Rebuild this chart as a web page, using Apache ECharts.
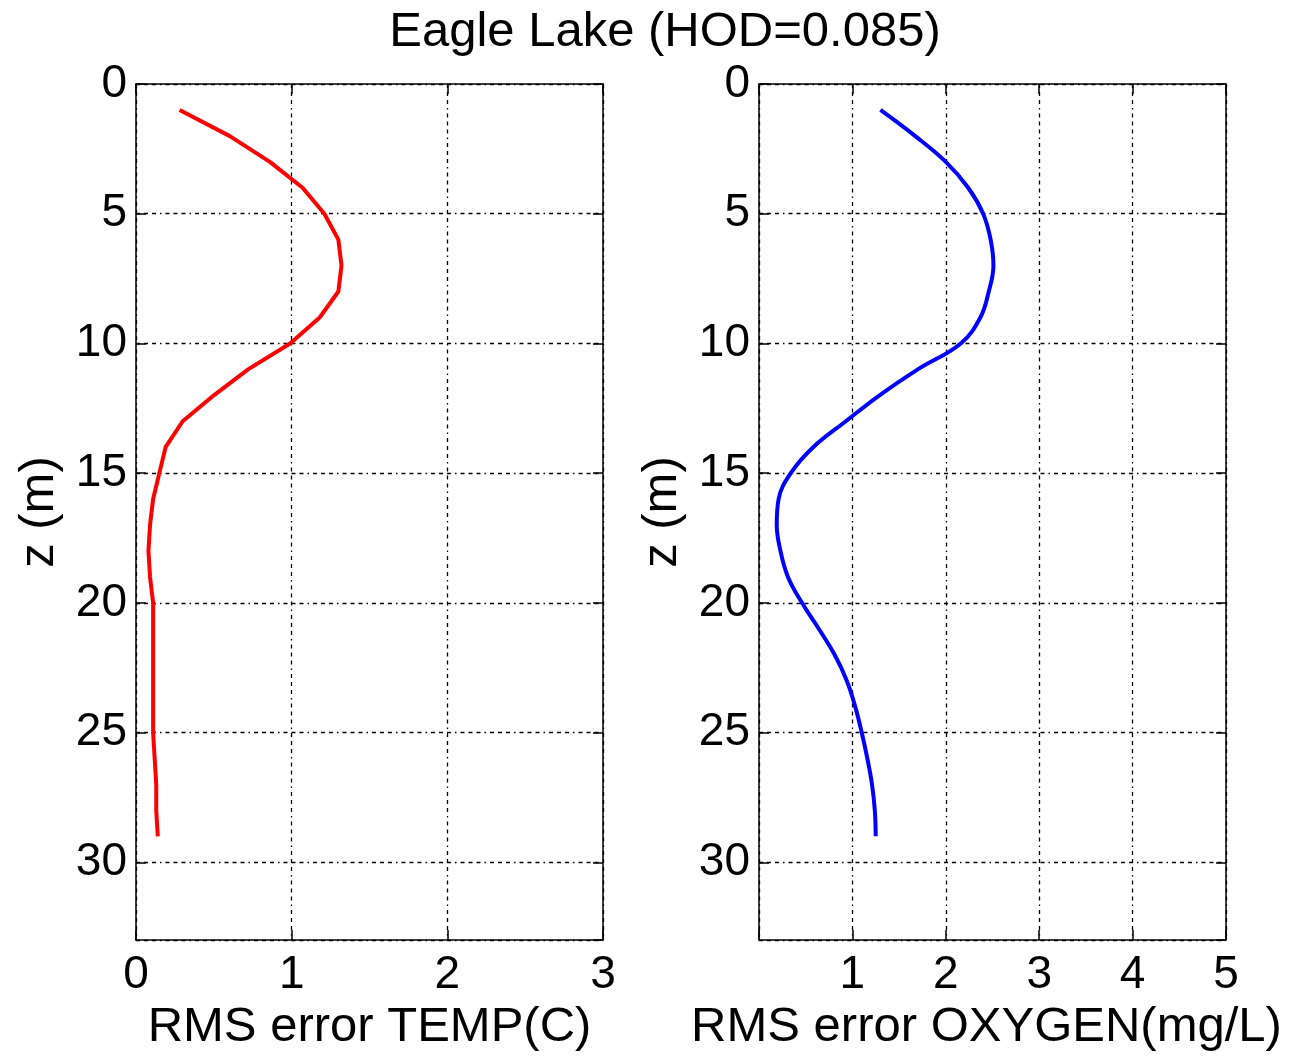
<!DOCTYPE html>
<html><head><meta charset="utf-8">
<script src="https://cdn.jsdelivr.net/npm/echarts@6/dist/echarts.min.js"></script>
<style>html,body{margin:0;padding:0;background:#fff}#c{width:1289px;height:1057px}</style>
</head><body><div id="c"></div>
<script>
const titleText = 'Eagle Lake (HOD=0.085)';
const depths = [1,2,3,4,5,6,7,8,9,10,11,12,13,14,15,16,17,18,19,20,21,22,23,24,25,26,27,28,29];
const tempRms = [0.28,0.60,0.86,1.07,1.21,1.30,1.32,1.30,1.18,0.99,0.72,0.50,0.30,0.19,0.15,0.11,0.09,0.08,0.09,0.11,0.11,0.11,0.11,0.11,0.11,0.12,0.13,0.13,0.14];
const oxyRms = [1.30,1.67,2.00,2.24,2.40,2.48,2.51,2.46,2.37,2.16,1.70,1.29,0.93,0.58,0.34,0.21,0.19,0.23,0.31,0.46,0.64,0.81,0.94,1.03,1.10,1.16,1.21,1.24,1.25];
const yName = 'z (m)';
const tempName = 'RMS error TEMP(C)';
const oxyName = 'RMS error OXYGEN(mg/L)';

const FONT = 'Liberation Sans, Arial, sans-serif';
const gridDash = [4,4,4,4,4,4,1.5,4];
const axisLineStyle = {color:'#000', width:1.5};

function xMain(gi, max, name, hideZero, pad){
  return {type:'value', gridIndex:gi, position:'bottom', min:0, max:max, interval:1,
    name:name, nameLocation:'middle', nameGap:52,
    nameTextStyle:{fontSize:49, color:'#000', fontFamily:FONT, padding:pad},
    axisLine:{show:true, onZero:false, lineStyle:axisLineStyle},
    axisTick:{show:true, inside:true, length:10, lineStyle:axisLineStyle},
    axisLabel:{fontSize:46, color:'#000', fontFamily:FONT, margin:12,
      formatter: v => (hideZero && v===0) ? '' : String(v)},
    splitLine:{show:true, lineStyle:{color:'#000', width:1.3, type:gridDash}}};
}
function xTop(gi, max){
  return {type:'value', gridIndex:gi, position:'top', min:0, max:max, interval:1,
    axisLine:{show:true, onZero:false, lineStyle:axisLineStyle},
    axisTick:{show:true, inside:true, length:10, lineStyle:axisLineStyle},
    axisLabel:{show:false}, splitLine:{show:false}};
}
function yMain(gi){
  return {type:'value', gridIndex:gi, position:'left', inverse:true, min:0, max:33, interval:5,
    name:yName, nameLocation:'middle', nameGap:72, nameRotate:90,
    nameTextStyle:{fontSize:49, color:'#000', fontFamily:FONT},
    axisLine:{show:true, onZero:false, lineStyle:axisLineStyle},
    axisTick:{show:true, inside:true, length:10, lineStyle:axisLineStyle},
    axisLabel:{fontSize:46, color:'#000', fontFamily:FONT, margin:9, showMaxLabel:false},
    splitLine:{show:true, lineStyle:{color:'#000', width:1.3, type:gridDash}}};
}
function yRight(gi){
  return {type:'value', gridIndex:gi, position:'right', inverse:true, min:0, max:33, interval:5,
    axisLine:{show:true, onZero:false, lineStyle:axisLineStyle},
    axisTick:{show:true, inside:true, length:10, lineStyle:axisLineStyle},
    axisLabel:{show:false}, splitLine:{show:false}};
}

const chart = echarts.init(document.getElementById('c'), null, {renderer:'canvas'});
chart.setOption({
  backgroundColor:'#fff',
  animation:false,
  title:{text:titleText, left:660, textAlign:'center', top:3,
    textStyle:{fontSize:49, fontWeight:'normal', color:'#000', fontFamily:FONT}},
  grid:[
    {left:136, right:686, top:84, bottom:110},
    {left:759, right:63, top:84, bottom:110}
  ],
  xAxis:[xMain(0,3,tempName,false,[0,0,0,0]), xMain(1,5,oxyName,true,[0,12,0,0]), xTop(0,3), xTop(1,5)],
  yAxis:[yMain(0), yMain(1), yRight(0), yRight(1)],
  series:[
    {type:'line', xAxisIndex:0, yAxisIndex:0, showSymbol:false,
      data: depths.map((z,i)=>[tempRms[i], z]),
      lineStyle:{color:'#ff0000', width:4}, itemStyle:{color:'#ff0000'}},
    {type:'line', xAxisIndex:1, yAxisIndex:1, showSymbol:false, smooth:0.4,
      data: depths.map((z,i)=>[oxyRms[i], z]),
      lineStyle:{color:'#0000ff', width:4}, itemStyle:{color:'#0000ff'}}
  ]
});
</script></body></html>
